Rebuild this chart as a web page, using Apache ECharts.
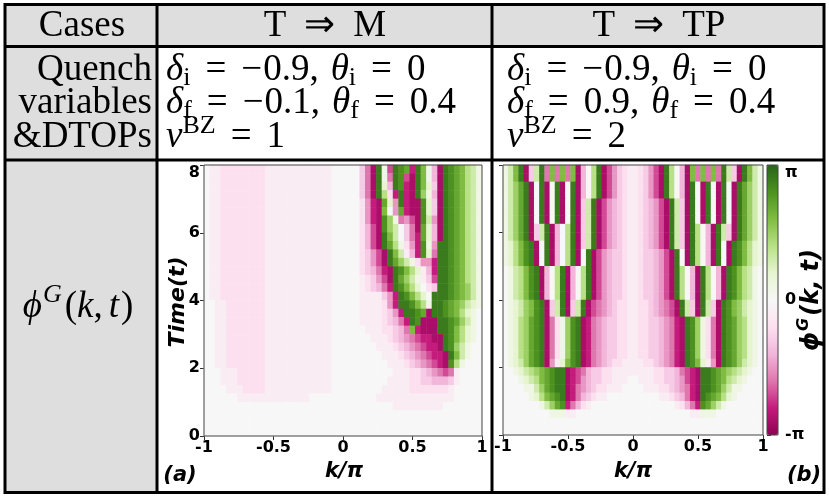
<!DOCTYPE html>
<html><head><meta charset="utf-8">
<script src="https://cdn.jsdelivr.net/npm/echarts@6/dist/echarts.min.js"></script>
<style>html,body{margin:0;padding:0;background:#fff}#c{width:829px;height:497px}</style>
</head><body><div id="c"></div>
<script>
// ---------------- data ----------------
// k axis ticks and time axis ticks
const kTicks = [-1, -0.5, 0, 0.5, 1];
const kTickLabels = ['-1', '-0.5', '0', '0.5', '1'];
const tTicks = [0, 2, 4, 6, 8];
const cbTickLabels = ['-π', '0', 'π'];
// grid of cells: 50 columns over k/π in [-1,1], 32 rows over t in [0,8]
const nK = 50, nT = 32;
// phase, one string per time row (top row = t near 8).
// code: '0' = 0, '1'..'9' = +0.1π..+0.9π, 'a'..'i' = -0.1π..-0.9π
const phaseA = [
"0aabbbbbbbbaaaaaaaaaaaa00000cfi91g987h961di9876431",
"0aabbbbbbbbaaaaaaaaaaaa00000cfi91f98gi961di9876431",
"0aabbbbbbbbaaaaaaaaaaaa00000cfi92d98hi962ci9876431",
"0aabbbbbbbbaaaaaaaaaaaa00000cfi94bh9hi951di9876431",
"0aabbbbbbbbaaaaaaaaaaaa00000behi72e9hii82ci9876431",
"0aabbbbbbbbaaaaaaaaaaaa00000behi60e7hii82ci9876431",
"0aabbbbbbbbaaaaaaaaaaaa00000behi851fegi83ei9876431",
"0aabbbbbbbbaaaaaaaaaaaa00000bdgi8530cfi72di9876431",
"0aabbbbbbbbaaaaaaaaaaaa00000bdgi9630cfh72di9876431",
"0aabbbbbbbbaaaaaaaaaaaa00000bdgi9741beh81e99876431",
"0aabbbbbbbbaaaaaaaaaaaa00000bcegi963adh82f99876431",
"0aabbbbbbbbaaaaaaaaaaaa00000bcegi97531beeh99876431",
"0aabbbbbbbbaaaaaaaaaaaa00000bcdfhi98642adh99876431",
"0aabbbbbbbbaaaaaaaaaaaa00000abcegi97531acg99876431",
"0aabbbbbbbbaaaaaaaaaaaa00000abcdfh986420bc99876531",
"0aabbbbbbbbaaaaaaaaaaaa00000aaaaceh986420999876531",
"00aabbbbbbbaaaaaaaaaaaa00000aaaabeh998641998765321",
"00aabbbbbbbaaaaaaaaaaaa00000aaaabceh9987i998764210",
"00aabbbbbbbaaaaaaaaaaaa00000aaaabcdfh98iii99875310",
"00aabbbbbbbaaaaaaaaaaaa000000aaabbcdf6hiii99864210",
"00aabbbbbbbaaaaaaaaaaaa0000000aaabcdefghhii9864210",
"00aabbbbbbbaaaaaaaaaaaa00000000aaabcdefghhi9853100",
"00aabbbbbbbaaaaaaaaaaaa000000000aaabcdefghhi963100",
"00aabbbbbbbaaaaaaaaaaaa0000000000aaabcdefghi841000",
"000aaabbbbbaaaaaaaaaaaa00000000000aaabbcdefgfa0000",
"000aaabbbbbaaaaaaaaaaaa0000000000aaaabbccdddca0000",
"0000aaabbbbaaaaaaaaaaaa000000000aaaaabbbbbbba00000",
"000000aaaaaaaaaaaaa000000000000aaaaaaaaaaaaaa00000",
"0000000000000000000000000000000000aaaaaaaaa0000000",
"00000000000000000000000000000000000000000000000000",
"00000000000000000000000000000000000000000000000000",
"00000000000000000000000000000000000000000000000000"
];
const phaseB = [
"1369ic39f6f6f6id049igecbaabcegi940di6f6f6f93ci9631",
"1369ic39f6f6f6id049igecbaabcegi940di6f6f6f93ci9631",
"13579i09i09i09id049igecbaabcegi940di90i90i90i97531",
"13579i09i09i09id049igecbaabcegi940di90i90i90i97531",
"13579i09i09i09ic39igedcbaabcdegi93ci90i90i90i97531",
"13579i09i09i09ic39igedcbaabcdegi93ci90i90i90i97531",
"13579i09i09i09ic39igedcbaabcdegi93ci90i90i90i97531",
"13579ic39id049ic39igedcbaabcdegi93ci940di93ci97531",
"13579ic39id049ic39igedcbaabcdegi93ci940di93ci97531",
"124689i09id049ic39igedcbaabcdegi93ci940di90i986421",
"124689i09id049i09igedccbaabccdegi90i940di90i986421",
"124689i09id049i09igedccbaabccdegi90i940di90i986421",
"0134689id049id049igedccbaabccdegi940di940di9864310",
"0134689id049id049igedccbaabccdegi940di940di9864310",
"0134689id049id049igedccbaabccdegi940di940di9864310",
"0134689id049id049igedccbaabccdegi940di940di9864310",
"01235689ic39ic39igfedcbbaabbcdefgi93ci93ci98653210",
"01235689ic39ic39igfedcbbaabbcdefgi93ci93ci98653210",
"01245789ifb1589ihfedccbbaabbccdefhi9851bfi98754210",
"01245789ifb1589ihfedccbbaabbccdefhi9851bfi98754210",
"01245789ifb1589ihfedccbbaabbccdefhi9851bfi98754210",
"01245789ifb1589ihfedccbbaabbccdefhi9851bfi98754210",
"01245789ifb1589ihfedccbbaabbccdefhi9851bfi98754210",
"01235789iea2689ihfedcbbaaaabbcdefhi9862aei98753210",
"001234567899ihgfdccbbaaaaaaaabbccdfghi998765432100",
"000123467899ihgedccbbaaa00aaabbccdeghi998764321000",
"000011357899ihfedcbbaaa0000aaabbcdefhi998753110000",
"000001246789ihfdcbaa0000000000aabcdfhi987642100000",
"000000013578hfdba0000000000000000abdfh875310000000",
"000000000111aa0000000000000000000000aa111000000000",
"00000000000000000000000000000000000000000000000000",
"00000000000000000000000000000000000000000000000000"
];

// ---------------- build ----------------
function level(ch) {
  if (ch >= '1' && ch <= '9') return +ch;
  if (ch >= 'a' && ch <= 'i') return -(ch.charCodeAt(0) - 96);
  return 0;
}
const kCats = [], tCats = [];
for (let j = 0; j < nK; j++) kCats.push(String(j));
for (let i = 0; i < nT; i++) tCats.push(String(i));
function build(rows) {
  const out = [];
  rows.forEach((row, r) => {
    for (let j = 0; j < nK; j++) out.push([j, nT - 1 - r, level(row[j] || '0') * Math.PI / 10]);
  });
  return out;
}
const dataA = build(phaseA), dataB = build(phaseB);

const PIYG = ['#8e0152','#c51b7d','#de77ae','#f1b6da','#fde0ef','#f7f7f7','#e6f5d0','#b8e186','#7fbc41','#4d9221','#276419'];
const SANS = "'DejaVu Sans'";
const SERIF = "'Liberation Serif'";
const tickFont = {fontFamily: 'DejaVu Sans', fontWeight: 'bold', fontSize: 16, color: '#000'};

const mctx = document.createElement('canvas').getContext('2d');
function runGroup(runs, x, y, opt) {
  opt = opt || {};
  const children = []; let cx = 0;
  runs.forEach(r => {
    if (r.t === '') { cx += (r.gap || 0); return; }
    const font = (r.it ? 'italic ' : 'normal ') + (r.b ? 'bold ' : 'normal ') + r.s + 'px ' + r.f;
    mctx.font = font;
    const w = mctx.measureText(r.t).width;
    children.push({type: 'text', x: cx, y: r.dy || 0, z: 50,
      style: {text: r.t, font: font, fill: '#000', align: 'left', verticalAlign: 'middle'}});
    cx += w + (r.gap || 0);
  });
  let off = 0;
  if (opt.align === 'center') off = -cx / 2; else if (opt.align === 'right') off = -cx;
  children.forEach(c => { c.x += off; });
  return {type: 'group', x: x, y: y, rotation: opt.rotation || 0, children: children, z: 50};
}
function txt(t, x, y, font, align, rot) {
  return {type: 'text', x: x, y: y, rotation: rot || 0, z: 50,
    style: {text: t, font: font, fill: '#000', align: align || 'center', verticalAlign: 'middle'}};
}
const S = 37, SUB = 26, EQ = 15;
function rm(t, gap) { return {t: t, s: S, f: SERIF, gap: gap || 0}; }
function it(t, gap) { return {t: t, it: true, s: S, f: SERIF, gap: gap || 0}; }
function sub(t, gap) { return {t: t, s: SUB, f: SERIF, dy: 8, gap: gap || 0}; }
function sup(t, gap) { return {t: t, s: SUB, f: SERIF, dy: -11, gap: gap || 0}; }
function eqParts(val) {
  const parts = [{t: '', gap: EQ}, rm('=', EQ)];
  if (val.charAt(0) === '−') { parts.push(rm('−', 1)); val = val.slice(1); }
  parts.push(rm(val));
  return parts;
}
function pairLine(g1, s1, v1, g2, s2, v2) {
  return [].concat([it(g1), sub(s1)], eqParts(v1), [rm(',', 12)], [it(g2), sub(s2)], eqParts(v2));
}
function nuLine(n) { return [].concat([it('ν'), sup('BZ')], eqParts(n)); }
function arrow(a, b) { return [rm(a, 18), rm('⇒', 18), rm(b)]; }

const L1 = 70, L2 = 103, L3 = 137, HY = 26;
const X2 = 166, X3 = 507;
const graphics = [
  // backgrounds
  {type: 'rect', z: -5, shape: {x: 5, y: 4.5, width: 819, height: 42}, style: {fill: '#dedede'}},
  {type: 'rect', z: -5, shape: {x: 5, y: 46.5, width: 152, height: 446}, style: {fill: '#dedede'}},
  // table lines
  {type: 'rect', z: 60, shape: {x: 5, y: 4.5, width: 819, height: 488}, style: {fill: 'none', stroke: '#000', lineWidth: 3}},
  {type: 'line', z: 60, shape: {x1: 157, y1: 4.5, x2: 157, y2: 492.5}, style: {stroke: '#000', lineWidth: 3}},
  {type: 'line', z: 60, shape: {x1: 492, y1: 4.5, x2: 492, y2: 492.5}, style: {stroke: '#000', lineWidth: 3}},
  {type: 'line', z: 60, shape: {x1: 5, y1: 46.5, x2: 824, y2: 46.5}, style: {stroke: '#000', lineWidth: 3}},
  {type: 'line', z: 60, shape: {x1: 5, y1: 160, x2: 824, y2: 160}, style: {stroke: '#000', lineWidth: 3}},
  // header
  txt('Cases', 82, HY, 'normal normal ' + S + 'px ' + SERIF, 'center'),
  runGroup(arrow('T', 'M'), 325, HY, {align: 'center'}),
  runGroup(arrow('T', 'TP'), 659, HY, {align: 'center'}),
  // row 2 col 1
  txt('Quench', 152, L1, 'normal normal ' + S + 'px ' + SERIF, 'right'),
  txt('variables', 152, L2, 'normal normal ' + S + 'px ' + SERIF, 'right'),
  txt('&DTOPs', 152, L3, 'normal normal ' + S + 'px ' + SERIF, 'right'),
  // row 2 col 2
  runGroup(pairLine('δ', 'i', '−0.9', 'θ', 'i', '0'), X2, L1),
  runGroup(pairLine('δ', 'f', '−0.1', 'θ', 'f', '0.4'), X2, L2),
  runGroup(nuLine('1'), X2, L3),
  // row 2 col 3
  runGroup(pairLine('δ', 'i', '−0.9', 'θ', 'i', '0'), X3, L1),
  runGroup(pairLine('δ', 'f', '0.9', 'θ', 'f', '0.4'), X3, L2),
  runGroup(nuLine('2'), X3, L3),
  // row 3 col 1
  runGroup([it('ϕ', 1), {t: 'G', it: true, s: SUB, f: SERIF, dy: -12, gap: 3},
    rm('('), it('k'), rm(',', 6), it('t', 2), rm(')')], 78, 307, {align: 'center'}),
  // panel labels
  txt('Time(t)', 178, 302, 'italic bold 22px ' + SANS, 'center', Math.PI / 2),
  txt('k/π', 344, 472, 'italic bold 21px ' + SANS, 'center'),
  txt('k/π', 633, 472, 'italic bold 21px ' + SANS, 'center'),
  txt('(a)', 180, 476, 'italic bold 21px ' + SANS, 'center'),
  txt('(b)', 804, 476, 'italic bold 21px ' + SANS, 'center'),
  runGroup([
    {t: 'ϕ', it: true, b: true, s: 24, f: SANS, gap: 1},
    {t: 'G', it: true, b: true, s: 16, f: SANS, dy: -8, gap: 2},
    {t: '(k, t)', it: true, b: true, s: 24, f: SANS}
  ], 812, 300, {align: 'center', rotation: Math.PI / 2}),
  // plot frames
  {type: 'rect', z: 40, shape: {x: 204, y: 165, width: 278, height: 271}, style: {fill: 'none', stroke: '#444', lineWidth: 1}},
  {type: 'rect', z: 40, shape: {x: 503, y: 165, width: 260, height: 270}, style: {fill: 'none', stroke: '#444', lineWidth: 1}},
  {type: 'rect', z: 40, shape: {x: 767, y: 165, width: 11, height: 270}, style: {fill: 'none', stroke: '#444', lineWidth: 1}}
];

function valueX(gi, showLabel) {
  return {gridIndex: gi, type: 'value', min: -1, max: 1, interval: 0.5, position: 'bottom',
    axisLine: {show: false}, splitLine: {show: false},
    axisTick: {show: true, length: 4, lineStyle: {color: '#333'}},
    axisLabel: Object.assign({show: showLabel, margin: 4,
      formatter: v => { const i = kTicks.indexOf(v); return i >= 0 ? kTickLabels[i] : ''; }}, tickFont)};
}
function valueY(gi, showLabel) {
  return {gridIndex: gi, type: 'value', min: 0, max: 8, interval: 2, position: 'left',
    axisLine: {show: false}, splitLine: {show: false},
    axisTick: {show: true, length: 4, lineStyle: {color: '#333'}},
    axisLabel: Object.assign({show: showLabel, margin: 4, verticalAlignMaxLabel: 'top',
      formatter: v => (tTicks.indexOf(v) >= 0 ? String(v) : '')}, tickFont)};
}
function catX(gi) { return {gridIndex: gi, type: 'category', data: kCats, show: false, position: 'top'}; }
function catY(gi) { return {gridIndex: gi, type: 'category', data: tCats, show: false, position: 'right'}; }

const option = {
  animation: false,
  backgroundColor: '#fff',
  grid: [
    {left: 204, top: 165, width: 278, height: 271, outerBoundsMode: 'none'},
    {left: 503, top: 165, width: 260, height: 270, outerBoundsMode: 'none'},
    {left: 767, top: 165, width: 11, height: 270, outerBoundsMode: 'none'}
  ],
  xAxis: [catX(0), valueX(0, true), catX(1), valueX(1, true),
    {gridIndex: 2, type: 'value', show: false, min: 0, max: 1}],
  yAxis: [catY(0), valueY(0, true), catY(1), valueY(1, false),
    {gridIndex: 2, type: 'value', min: -Math.PI, max: Math.PI, interval: Math.PI / 2, position: 'right',
      axisLine: {show: false}, splitLine: {show: false},
      axisTick: {show: true, length: 4, lineStyle: {color: '#333'}},
      axisLabel: Object.assign({margin: 7, verticalAlignMaxLabel: 'top', formatter: v => {
        if (Math.abs(v - Math.PI) < 1e-6) return cbTickLabels[2];
        if (Math.abs(v) < 1e-6) return cbTickLabels[1];
        if (Math.abs(v + Math.PI) < 1e-6) return cbTickLabels[0];
        return '';
      }}, tickFont)}],
  visualMap: {
    type: 'continuous', min: -Math.PI, max: Math.PI, seriesIndex: [0, 1],
    inRange: {color: PIYG}, orient: 'vertical', left: 767, top: 165,
    itemWidth: 11, itemHeight: 270, calculable: false, padding: 0, hoverLink: false, show: true
  },
  series: [
    {type: 'heatmap', xAxisIndex: 0, yAxisIndex: 0, data: dataA, progressive: 0, emphasis: {disabled: true}},
    {type: 'heatmap', xAxisIndex: 2, yAxisIndex: 2, data: dataB, progressive: 0, emphasis: {disabled: true}}
  ],
  graphic: {elements: graphics}
};
const chart = echarts.init(document.getElementById('c'));
chart.setOption(option);
</script>
</body></html>
